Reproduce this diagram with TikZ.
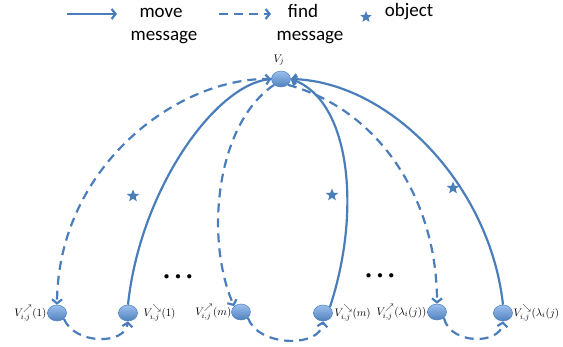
\documentclass[tikz,border=0pt]{standalone}
\usepackage{fontspec}
\setmainfont{Carlito}
\usetikzlibrary{arrows.meta,shapes.geometric}
\definecolor{ln}{HTML}{4A7EBB}
\definecolor{nfa}{HTML}{9CC0EE}
\definecolor{nfb}{HTML}{4F81BD}
\tikzset{
 vnode/.style={ellipse, minimum width=19pt, minimum height=16pt, inner sep=0pt, top color=nfa, bottom color=nfb, draw=nfb, line width=0.5pt},
 mv/.style={draw=ln, line width=2.2pt, -{Straight Barb[length=4pt,width=10pt]}},
 fd/.style={mv, dash pattern=on 9pt off 6pt},
 lab/.style={font=\fontsize{11}{13}\selectfont, inner sep=0.5pt},
 obj/.style={star, star points=5, star point ratio=2.3, fill=ln, inner sep=0pt, minimum size=13pt},
 legtext/.style={font=\fontsize{19}{22}\selectfont, anchor=base, inner sep=0pt},
 dots/.style={font=\fontsize{11}{12}\selectfont, inner sep=0pt},
}
\begin{document}
\begin{tikzpicture}[x=1pt,y=-1pt]
\useasboundingbox (0,0) rectangle (563,347);
% legend
\coordinate (la1) at (67,14); \coordinate (la2) at (117,14);
\coordinate (lb1) at (219,14); \coordinate (lb2) at (271,14);
\draw[mv] (la1) -- (la2);
\draw[fd] (lb1) -- (lb2);
\node[legtext] (t1) at (161,18) {move};
\node[legtext] (t2) at (164,41) {message};
\node[legtext] (t3) at (303,18) {find};
\node[legtext] (t4) at (310,41) {message};
\node[obj, minimum size=12pt] (s0) at (366,17) {};
\node[legtext] (t5) at (409,17) {object};
% nodes
\node[vnode] (vj) at (281,79) {};
\node[lab] (vjl) at (279,60) {$V_j$};
\node[vnode] (n1) at (57,313) {};
\node[vnode] (n2) at (128,313) {};
\node[vnode] (n3) at (241,312) {};
\node[vnode] (n4) at (323,313) {};
\node[vnode] (n5) at (437,312) {};
\node[vnode] (n6) at (503,313) {};
\node[lab, anchor=east] (l1) at (47,313) {$V^{\nearrow}_{i,j}(1)$};
\node[lab, anchor=west] (l2) at (143,313) {$V^{\searrow}_{i,j}(1)$};
\node[lab, anchor=east] (l3) at (232,312) {$V^{\nearrow}_{i,j}(m)$};
\node[lab, anchor=west] (l4) at (334,313) {$V^{\searrow}_{i,j}(m)$};
\node[lab, anchor=east] (l5) at (427,312) {$V^{\nearrow}_{i,j}(\lambda_i(j))$};
\node[lab, anchor=west] (l6) at (513,313) {$V^{\searrow}_{i,j}(\lambda_i(j)$};
% stars
\node[obj] (s1) at (133,196) {};
\node[obj] (s2) at (332,195) {};
\node[obj] (s3) at (453,188) {};
% dots
\node[dots] (d1) at (178,277) {$\bullet$\kern6pt$\bullet$\kern6pt$\bullet$};
\node[dots] (d2) at (380,276) {$\bullet$\kern6pt$\bullet$\kern6pt$\bullet$};
% connectors
\draw[fd] (vj.west) .. controls (180,76) and (58,165) .. (n1.north);
\draw[mv] (n2.north) .. controls (140,190) and (215,85) .. (vj.west);
\draw[fd] (vj.south west) .. controls (215,125) and (205,240) .. (n3.north west);
\draw[mv] (n4.north east) .. controls (362,210) and (350,100) .. (vj.east);
\draw[fd] (vj.south east) .. controls (380,110) and (437,200) .. (n5.north);
\draw[mv] (n6.north) .. controls (490,185) and (390,82) .. (vj.east);
\draw[fd] (n1.south east) .. controls (75,345) and (125,345) .. (n2.south);
\draw[fd] (n3.south east) .. controls (258,347) and (320,348) .. (n4.south);
\draw[fd] (n5.south east) .. controls (450,345) and (500,345) .. (n6.south);
\end{tikzpicture}
\end{document}
